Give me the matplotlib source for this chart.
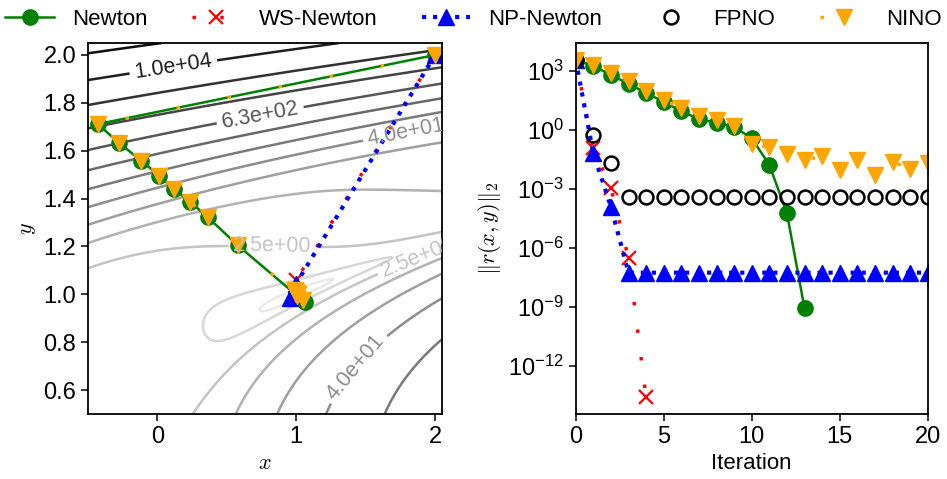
import numpy as np
import matplotlib
matplotlib.use("Agg")
import matplotlib.pyplot as plt
from matplotlib.colors import LogNorm
from matplotlib.ticker import NullLocator

plt.rcParams['font.family'] = ['Liberation Sans', 'DejaVu Sans']
plt.rcParams['mathtext.fontset'] = 'cm'
plt.rcParams['font.size'] = 16
plt.rcParams['xtick.labelsize'] = 17
plt.rcParams['ytick.labelsize'] = 17
plt.rcParams['axes.linewidth'] = 1.3
plt.rcParams['xtick.major.size'] = 5
plt.rcParams['ytick.major.size'] = 5
plt.rcParams['xtick.major.width'] = 1.1
plt.rcParams['ytick.major.width'] = 1.1

# ---------------- data: trajectories in the (x, y) plane ----------------
newton_x = [2.0, -0.43, -0.274, -0.118, 0.014, 0.123, 0.238, 0.363, 0.58, 1.06, 1.02, 1.003, 1.0, 1.0]
newton_y = [2.0, 1.711, 1.632, 1.558, 1.496, 1.44, 1.385, 1.322, 1.204, 0.968, 0.99, 0.998, 1.0, 1.0]

ws_x = [2.0, 1.0, 1.0, 1.0, 1.0]
ws_y = [2.0, 1.06, 1.0, 1.0, 1.0]

np_x = [2.0, 1.0, 0.955] + [1.0] * 18
np_y = [2.0, 1.045, 0.985] + [1.0] * 18

nino_x = [2.0, -0.43, -0.274, -0.118, 0.014, 0.123, 0.238, 0.363, 0.58, 1.05,
          1.0, 0.99, 1.01, 1.0, 0.995, 1.005, 1.0, 1.01, 0.99, 1.0, 1.0]
nino_y = [2.0, 1.711, 1.632, 1.558, 1.496, 1.44, 1.385, 1.322, 1.204, 0.975,
          1.01, 1.02, 1.0, 1.005, 1.01, 0.995, 1.0, 1.0, 1.01, 1.005, 1.0]

# ---------------- data: residual histories (log10 of ||r||_2) ----------------
newton_iter = list(range(14))
newton_log = [3.56, 3.24, 2.80, 2.34, 1.88, 1.42, 0.96, 0.54, 0.37, 0.14, -0.42, -1.78, -4.23, -9.07]

ws_iter = list(range(5))
ws_log = [3.56, -0.93, -2.96, -6.52, -13.59]

np_iter = list(range(21))
np_log = [3.56, -1.19, -3.90] + [-7.26] * 18

fpno_iter = list(range(21))
fpno_log = [3.56, -0.25, -1.66] + [-3.41] * 18

nino_iter = list(range(21))
nino_log = [3.56, 3.31, 2.91, 2.46, 2.00, 1.53, 1.10, 0.72, 0.51, 0.21,
            -0.72, -0.89, -1.25, -1.54, -1.34, -2.03, -1.52, -2.29, -1.61, -2.00, -1.66]

labels = ["Newton", "WS-Newton", "NP-Newton", "FPNO", "NINO"]

# contour levels (log10): plain ones and the labelled subset
plain_exps = [-0.8, -0.4, 0.0, 0.8, 1.2, 2.0, 2.4, 3.2, 3.6, 4.4]
label_exps = [0.4, 1.6, 2.8, 4.0]

# ---------------- figure ----------------
fig = plt.figure(figsize=(9.47, 4.79), dpi=100)
ax1 = fig.add_axes([88 / 947, 1 - 414 / 479, 354 / 947, 371 / 479])
ax2 = fig.add_axes([575.7 / 947, 1 - 414 / 479, 352 / 947, 371 / 479])

# residual field of the test problem
xs = np.linspace(-0.5, 2.05, 500)
ys = np.linspace(0.5, 2.05, 500)
X, Y = np.meshgrid(xs, ys)
F1 = (X - Y**3 + 1) ** 5 - Y**5
F2 = X + 2 * Y - 3
R = np.hypot(F1, F2)

norm = LogNorm(vmin=10 ** -0.89, vmax=10 ** 4.67)
ax1.contour(X, Y, R, levels=10.0 ** np.array(plain_exps), cmap='gray_r', norm=norm, linewidths=1.8)
cs = ax1.contour(X, Y, R, levels=10.0 ** np.array(label_exps), cmap='gray_r', norm=norm, linewidths=1.8)
ax1.clabel(cs, fmt='%.1e', fontsize=15.5, inline=True,
           manual=[(0.12, 1.93), (0.74, 1.75), (1.8, 1.66), (0.83, 1.21), (1.9, 1.13), (1.42, 0.70)])

sty = dict(
    newton=dict(color='green', ls='-', lw=1.8, marker='o', ms=11),
    ws=dict(color='red', ls=(0, (1, 7)), lw=2.5, marker='x', ms=10, mew=1.6),
    np=dict(color='blue', ls=':', lw=3, marker='^', ms=11),
    fpno=dict(color='black', ls='none', marker='o', ms=10, mfc='none', mew=1.8),
    nino=dict(color='orange', ls=(0, (1, 14)), lw=2.5, marker='v', ms=11),
)

ax1.plot(newton_x, newton_y, **sty['newton'])
ax1.plot(ws_x, ws_y, **sty['ws'])
ax1.plot(np_x, np_y, **sty['np'])
ax1.plot(nino_x, nino_y, **sty['nino'])

ax1.set_xlim(-0.5, 2.05)
ax1.set_ylim(0.5, 2.05)
ax1.set_xticks([0, 1, 2])
ax1.set_yticks([0.6, 0.8, 1.0, 1.2, 1.4, 1.6, 1.8, 2.0])
ax1.set_xlabel('$x$')
ax1.set_ylabel('$y$')

hs = []
hs += ax2.plot(newton_iter, 10.0 ** np.array(newton_log), label=labels[0], **sty['newton'])
hs += ax2.plot(ws_iter, 10.0 ** np.array(ws_log), label=labels[1], **sty['ws'])
hs += ax2.plot(np_iter, 10.0 ** np.array(np_log), label=labels[2], **sty['np'])
hs += ax2.plot(fpno_iter, 10.0 ** np.array(fpno_log), label=labels[3], **sty['fpno'])
hs += ax2.plot(nino_iter, 10.0 ** np.array(nino_log), label=labels[4], **sty['nino'])
ax2.set_yscale('log')
ax2.set_xlim(0, 20)
ax2.set_xticks([0, 5, 10, 15, 20])
ax2.set_yticks([1e3, 1e0, 1e-3, 1e-6, 1e-9, 1e-12])
ax2.yaxis.set_minor_locator(NullLocator())
ax2.set_xlabel('Iteration', fontsize=16)
ax2.set_ylabel(r'$\|r(x,y)\|_2$')

fig.legend(handles=hs, labels=labels, loc='upper center', bbox_to_anchor=(0.5, 1.024),
           ncol=5, frameon=False, fontsize=16, handlelength=2.2, columnspacing=2.0,
           handletextpad=0.8)

fig.savefig('out.png', dpi=100)
